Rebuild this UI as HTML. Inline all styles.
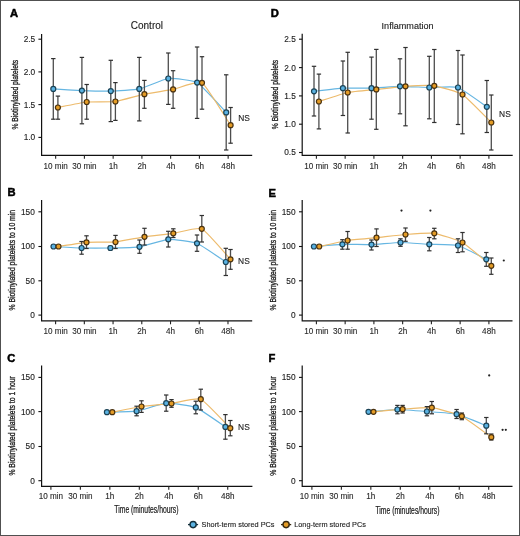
<!DOCTYPE html>
<html><head><meta charset="utf-8"><title>Figure</title>
<style>html,body{margin:0;padding:0;background:#fff;width:520px;height:536px;overflow:hidden}</style>
</head><body>
<svg width="520" height="536" viewBox="0 0 520 536" style="display:block;font-family:'Liberation Sans', sans-serif;will-change:transform">
<rect x="0" y="0" width="520" height="536" fill="#fff"/>
<rect x="0.5" y="0.5" width="519" height="535" fill="none" stroke="#505050" stroke-width="1"/>
<text x="146.9" y="28.8" font-size="10.3" text-anchor="middle" font-weight="normal" fill="#1a1a1a" stroke="#1a1a1a" stroke-width="0.12" textLength="32.2" lengthAdjust="spacingAndGlyphs">Control</text>
<text x="407.6" y="28.8" font-size="9.9" text-anchor="middle" font-weight="normal" fill="#1a1a1a" stroke="#1a1a1a" stroke-width="0.12" textLength="52" lengthAdjust="spacingAndGlyphs">Inflammation</text>
<text x="9.9" y="16.8" font-size="11.2" font-weight="bold" fill="#000" stroke="#000" stroke-width="0.5">A</text>
<path d="M41.6,34 V155.3 H252.2" fill="none" stroke="#111" stroke-width="1.2"/>
<line x1="38.4" y1="39.2" x2="41.6" y2="39.2" stroke="#111" stroke-width="1.1"/>
<text x="35.2" y="42.1" font-size="8.3" text-anchor="end" font-weight="normal" fill="#222" stroke="#222" stroke-width="0.12" >2.5</text>
<line x1="38.4" y1="71.9" x2="41.6" y2="71.9" stroke="#111" stroke-width="1.1"/>
<text x="35.2" y="74.80000000000001" font-size="8.3" text-anchor="end" font-weight="normal" fill="#222" stroke="#222" stroke-width="0.12" >2.0</text>
<line x1="38.4" y1="104.6" x2="41.6" y2="104.6" stroke="#111" stroke-width="1.1"/>
<text x="35.2" y="107.5" font-size="8.3" text-anchor="end" font-weight="normal" fill="#222" stroke="#222" stroke-width="0.12" >1.5</text>
<line x1="38.4" y1="137.4" x2="41.6" y2="137.4" stroke="#111" stroke-width="1.1"/>
<text x="35.2" y="140.3" font-size="8.3" text-anchor="end" font-weight="normal" fill="#222" stroke="#222" stroke-width="0.12" >1.0</text>
<line x1="55.65" y1="155.3" x2="55.65" y2="158.70000000000002" stroke="#222" stroke-width="1.1"/>
<text x="55.65" y="169.0" font-size="8.15" text-anchor="middle" font-weight="normal" fill="#2a2a2a" stroke="#2a2a2a" stroke-width="0.12" >10 min</text>
<line x1="84.4" y1="155.3" x2="84.4" y2="158.70000000000002" stroke="#222" stroke-width="1.1"/>
<text x="84.4" y="169.0" font-size="8.15" text-anchor="middle" font-weight="normal" fill="#2a2a2a" stroke="#2a2a2a" stroke-width="0.12" >30 min</text>
<line x1="113.15" y1="155.3" x2="113.15" y2="158.70000000000002" stroke="#222" stroke-width="1.1"/>
<text x="113.15" y="169.0" font-size="8.15" text-anchor="middle" font-weight="normal" fill="#2a2a2a" stroke="#2a2a2a" stroke-width="0.12" >1h</text>
<line x1="141.9" y1="155.3" x2="141.9" y2="158.70000000000002" stroke="#222" stroke-width="1.1"/>
<text x="141.9" y="169.0" font-size="8.15" text-anchor="middle" font-weight="normal" fill="#2a2a2a" stroke="#2a2a2a" stroke-width="0.12" >2h</text>
<line x1="170.65" y1="155.3" x2="170.65" y2="158.70000000000002" stroke="#222" stroke-width="1.1"/>
<text x="170.65" y="169.0" font-size="8.15" text-anchor="middle" font-weight="normal" fill="#2a2a2a" stroke="#2a2a2a" stroke-width="0.12" >4h</text>
<line x1="199.4" y1="155.3" x2="199.4" y2="158.70000000000002" stroke="#222" stroke-width="1.1"/>
<text x="199.4" y="169.0" font-size="8.15" text-anchor="middle" font-weight="normal" fill="#2a2a2a" stroke="#2a2a2a" stroke-width="0.12" >6h</text>
<line x1="228.15" y1="155.3" x2="228.15" y2="158.70000000000002" stroke="#222" stroke-width="1.1"/>
<text x="228.15" y="169.0" font-size="8.15" text-anchor="middle" font-weight="normal" fill="#2a2a2a" stroke="#2a2a2a" stroke-width="0.12" >48h</text>
<text transform="translate(17.8,94.69999999999999) rotate(-90)" x="0" y="0" font-size="8.3" text-anchor="middle" fill="#1a1a1a" stroke="#1a1a1a" stroke-width="0.3" textLength="69.8" lengthAdjust="spacingAndGlyphs">% Biotinylated platelets</text>
<path d="M53.3,88.9 C55.30,89.02 77.88,90.45 81.9,90.6 C85.93,90.75 106.78,91.22 110.8,91.1 C114.82,90.98 135.28,89.78 139.3,88.9 C143.33,88.02 164.25,78.94 168.3,78.5 C172.35,78.06 193.05,80.23 197.1,82.6 C201.15,84.97 224.16,110.31 226.2,112.4" fill="none" stroke="#66b6e2" stroke-width="1.2"/>
<path d="M57.9,107.5 C59.92,107.11 82.67,102.42 86.7,102 C90.73,101.58 111.36,102.05 115.4,101.5 C119.44,100.95 140.36,95.05 144.4,94.2 C148.44,93.35 169.07,90.20 173.1,89.4 C177.13,88.60 197.97,80.29 202,82.8 C206.03,85.31 228.60,122.23 230.6,125.2" fill="none" stroke="#edbb6c" stroke-width="1.2"/>
<line x1="53.3" y1="58.6" x2="53.3" y2="119.2" stroke="#4d4d4d" stroke-width="1.3"/>
<line x1="51.099999999999994" y1="58.6" x2="55.5" y2="58.6" stroke="#303030" stroke-width="1.2"/>
<line x1="51.099999999999994" y1="119.2" x2="55.5" y2="119.2" stroke="#303030" stroke-width="1.2"/>
<line x1="81.9" y1="57.4" x2="81.9" y2="123.8" stroke="#4d4d4d" stroke-width="1.3"/>
<line x1="79.7" y1="57.4" x2="84.10000000000001" y2="57.4" stroke="#303030" stroke-width="1.2"/>
<line x1="79.7" y1="123.8" x2="84.10000000000001" y2="123.8" stroke="#303030" stroke-width="1.2"/>
<line x1="110.8" y1="60.3" x2="110.8" y2="121.6" stroke="#4d4d4d" stroke-width="1.3"/>
<line x1="108.6" y1="60.3" x2="113.0" y2="60.3" stroke="#303030" stroke-width="1.2"/>
<line x1="108.6" y1="121.6" x2="113.0" y2="121.6" stroke="#303030" stroke-width="1.2"/>
<line x1="139.3" y1="57.4" x2="139.3" y2="120.9" stroke="#4d4d4d" stroke-width="1.3"/>
<line x1="137.10000000000002" y1="57.4" x2="141.5" y2="57.4" stroke="#303030" stroke-width="1.2"/>
<line x1="137.10000000000002" y1="120.9" x2="141.5" y2="120.9" stroke="#303030" stroke-width="1.2"/>
<line x1="168.3" y1="53" x2="168.3" y2="104.4" stroke="#4d4d4d" stroke-width="1.3"/>
<line x1="166.10000000000002" y1="53" x2="170.5" y2="53" stroke="#303030" stroke-width="1.2"/>
<line x1="166.10000000000002" y1="104.4" x2="170.5" y2="104.4" stroke="#303030" stroke-width="1.2"/>
<line x1="197.1" y1="47" x2="197.1" y2="118.4" stroke="#4d4d4d" stroke-width="1.3"/>
<line x1="194.9" y1="47" x2="199.29999999999998" y2="47" stroke="#303030" stroke-width="1.2"/>
<line x1="194.9" y1="118.4" x2="199.29999999999998" y2="118.4" stroke="#303030" stroke-width="1.2"/>
<line x1="226.2" y1="74.8" x2="226.2" y2="150" stroke="#4d4d4d" stroke-width="1.3"/>
<line x1="224.0" y1="74.8" x2="228.39999999999998" y2="74.8" stroke="#303030" stroke-width="1.2"/>
<line x1="224.0" y1="150" x2="228.39999999999998" y2="150" stroke="#303030" stroke-width="1.2"/>
<line x1="57.9" y1="96.1" x2="57.9" y2="119.2" stroke="#4d4d4d" stroke-width="1.3"/>
<line x1="55.699999999999996" y1="96.1" x2="60.1" y2="96.1" stroke="#303030" stroke-width="1.2"/>
<line x1="55.699999999999996" y1="119.2" x2="60.1" y2="119.2" stroke="#303030" stroke-width="1.2"/>
<line x1="86.7" y1="84.5" x2="86.7" y2="119.2" stroke="#4d4d4d" stroke-width="1.3"/>
<line x1="84.5" y1="84.5" x2="88.9" y2="84.5" stroke="#303030" stroke-width="1.2"/>
<line x1="84.5" y1="119.2" x2="88.9" y2="119.2" stroke="#303030" stroke-width="1.2"/>
<line x1="115.4" y1="82.6" x2="115.4" y2="120.4" stroke="#4d4d4d" stroke-width="1.3"/>
<line x1="113.2" y1="82.6" x2="117.60000000000001" y2="82.6" stroke="#303030" stroke-width="1.2"/>
<line x1="113.2" y1="120.4" x2="117.60000000000001" y2="120.4" stroke="#303030" stroke-width="1.2"/>
<line x1="144.4" y1="80.4" x2="144.4" y2="108.3" stroke="#4d4d4d" stroke-width="1.3"/>
<line x1="142.20000000000002" y1="80.4" x2="146.6" y2="80.4" stroke="#303030" stroke-width="1.2"/>
<line x1="142.20000000000002" y1="108.3" x2="146.6" y2="108.3" stroke="#303030" stroke-width="1.2"/>
<line x1="173.1" y1="70.7" x2="173.1" y2="108.3" stroke="#4d4d4d" stroke-width="1.3"/>
<line x1="170.9" y1="70.7" x2="175.29999999999998" y2="70.7" stroke="#303030" stroke-width="1.2"/>
<line x1="170.9" y1="108.3" x2="175.29999999999998" y2="108.3" stroke="#303030" stroke-width="1.2"/>
<line x1="202" y1="56.7" x2="202" y2="109.2" stroke="#4d4d4d" stroke-width="1.3"/>
<line x1="199.8" y1="56.7" x2="204.2" y2="56.7" stroke="#303030" stroke-width="1.2"/>
<line x1="199.8" y1="109.2" x2="204.2" y2="109.2" stroke="#303030" stroke-width="1.2"/>
<line x1="230.6" y1="107.5" x2="230.6" y2="143.2" stroke="#4d4d4d" stroke-width="1.3"/>
<line x1="228.4" y1="107.5" x2="232.79999999999998" y2="107.5" stroke="#303030" stroke-width="1.2"/>
<line x1="228.4" y1="143.2" x2="232.79999999999998" y2="143.2" stroke="#303030" stroke-width="1.2"/>
<circle cx="53.3" cy="88.9" r="2.5" fill="#5AB2E2" stroke="#1b4356" stroke-width="1.2"/>
<circle cx="81.9" cy="90.6" r="2.5" fill="#5AB2E2" stroke="#1b4356" stroke-width="1.2"/>
<circle cx="110.8" cy="91.1" r="2.5" fill="#5AB2E2" stroke="#1b4356" stroke-width="1.2"/>
<circle cx="139.3" cy="88.9" r="2.5" fill="#5AB2E2" stroke="#1b4356" stroke-width="1.2"/>
<circle cx="168.3" cy="78.5" r="2.5" fill="#5AB2E2" stroke="#1b4356" stroke-width="1.2"/>
<circle cx="197.1" cy="82.6" r="2.5" fill="#5AB2E2" stroke="#1b4356" stroke-width="1.2"/>
<circle cx="226.2" cy="112.4" r="2.5" fill="#5AB2E2" stroke="#1b4356" stroke-width="1.2"/>
<circle cx="57.9" cy="107.5" r="2.5" fill="#E49C26" stroke="#4a3210" stroke-width="1.2"/>
<circle cx="86.7" cy="102" r="2.5" fill="#E49C26" stroke="#4a3210" stroke-width="1.2"/>
<circle cx="115.4" cy="101.5" r="2.5" fill="#E49C26" stroke="#4a3210" stroke-width="1.2"/>
<circle cx="144.4" cy="94.2" r="2.5" fill="#E49C26" stroke="#4a3210" stroke-width="1.2"/>
<circle cx="173.1" cy="89.4" r="2.5" fill="#E49C26" stroke="#4a3210" stroke-width="1.2"/>
<circle cx="202" cy="82.8" r="2.5" fill="#E49C26" stroke="#4a3210" stroke-width="1.2"/>
<circle cx="230.6" cy="125.2" r="2.5" fill="#E49C26" stroke="#4a3210" stroke-width="1.2"/>
<text x="238.2" y="121.3" font-size="8.4" text-anchor="start" font-weight="normal" fill="#222" stroke="#222" stroke-width="0.12" >NS</text>
<text x="7.4" y="196.4" font-size="11.2" font-weight="bold" fill="#000" stroke="#000" stroke-width="0.5">B</text>
<path d="M41.6,200 V320.9 H252.2" fill="none" stroke="#111" stroke-width="1.2"/>
<line x1="38.4" y1="211.8" x2="41.6" y2="211.8" stroke="#111" stroke-width="1.1"/>
<text x="34.8" y="214.70000000000002" font-size="8.3" text-anchor="end" font-weight="normal" fill="#222" stroke="#222" stroke-width="0.12" >150</text>
<line x1="38.4" y1="246.5" x2="41.6" y2="246.5" stroke="#111" stroke-width="1.1"/>
<text x="34.8" y="249.4" font-size="8.3" text-anchor="end" font-weight="normal" fill="#222" stroke="#222" stroke-width="0.12" >100</text>
<line x1="38.4" y1="280.8" x2="41.6" y2="280.8" stroke="#111" stroke-width="1.1"/>
<text x="34.8" y="283.7" font-size="8.3" text-anchor="end" font-weight="normal" fill="#222" stroke="#222" stroke-width="0.12" >50</text>
<line x1="38.4" y1="315.1" x2="41.6" y2="315.1" stroke="#111" stroke-width="1.1"/>
<text x="34.8" y="318.0" font-size="8.3" text-anchor="end" font-weight="normal" fill="#222" stroke="#222" stroke-width="0.12" >0</text>
<line x1="55.6" y1="320.9" x2="55.6" y2="324.29999999999995" stroke="#222" stroke-width="1.1"/>
<text x="55.6" y="334.2" font-size="8.15" text-anchor="middle" font-weight="normal" fill="#2a2a2a" stroke="#2a2a2a" stroke-width="0.12" >10 min</text>
<line x1="84.33" y1="320.9" x2="84.33" y2="324.29999999999995" stroke="#222" stroke-width="1.1"/>
<text x="84.33" y="334.2" font-size="8.15" text-anchor="middle" font-weight="normal" fill="#2a2a2a" stroke="#2a2a2a" stroke-width="0.12" >30 min</text>
<line x1="113.06" y1="320.9" x2="113.06" y2="324.29999999999995" stroke="#222" stroke-width="1.1"/>
<text x="113.06" y="334.2" font-size="8.15" text-anchor="middle" font-weight="normal" fill="#2a2a2a" stroke="#2a2a2a" stroke-width="0.12" >1h</text>
<line x1="141.79" y1="320.9" x2="141.79" y2="324.29999999999995" stroke="#222" stroke-width="1.1"/>
<text x="141.79" y="334.2" font-size="8.15" text-anchor="middle" font-weight="normal" fill="#2a2a2a" stroke="#2a2a2a" stroke-width="0.12" >2h</text>
<line x1="170.52" y1="320.9" x2="170.52" y2="324.29999999999995" stroke="#222" stroke-width="1.1"/>
<text x="170.52" y="334.2" font-size="8.15" text-anchor="middle" font-weight="normal" fill="#2a2a2a" stroke="#2a2a2a" stroke-width="0.12" >4h</text>
<line x1="199.25" y1="320.9" x2="199.25" y2="324.29999999999995" stroke="#222" stroke-width="1.1"/>
<text x="199.25" y="334.2" font-size="8.15" text-anchor="middle" font-weight="normal" fill="#2a2a2a" stroke="#2a2a2a" stroke-width="0.12" >6h</text>
<line x1="227.98" y1="320.9" x2="227.98" y2="324.29999999999995" stroke="#222" stroke-width="1.1"/>
<text x="227.98" y="334.2" font-size="8.15" text-anchor="middle" font-weight="normal" fill="#2a2a2a" stroke="#2a2a2a" stroke-width="0.12" >48h</text>
<text transform="translate(15.2,260.25) rotate(-90)" x="0" y="0" font-size="8.3" text-anchor="middle" fill="#1a1a1a" stroke="#1a1a1a" stroke-width="0.3" textLength="100.70000000000002" lengthAdjust="spacingAndGlyphs">% Biotinylated platelets to 10 min</text>
<path d="M53.5,246.5 C55.47,246.60 77.62,247.90 81.6,248 C85.58,248.10 106.35,248.08 110.4,248 C114.45,247.92 135.45,247.41 139.5,246.8 C143.55,246.19 164.28,239.55 168.3,239.3 C172.33,239.06 192.97,241.71 197,243.3 C201.03,244.89 223.78,260.69 225.8,262" fill="none" stroke="#66b6e2" stroke-width="1.2"/>
<path d="M58.5,246.5 C60.46,246.21 82.51,242.62 86.5,242.3 C90.49,241.99 111.44,242.38 115.5,242 C119.56,241.62 140.45,237.41 144.5,236.8 C148.55,236.19 169.29,233.86 173.3,233.3 C177.31,232.74 197.80,226.98 201.8,228.8 C205.80,230.62 228.49,257.17 230.5,259.3" fill="none" stroke="#edbb6c" stroke-width="1.2"/>
<line x1="81.6" y1="241.5" x2="81.6" y2="254.2" stroke="#4d4d4d" stroke-width="1.3"/>
<line x1="79.39999999999999" y1="241.5" x2="83.8" y2="241.5" stroke="#303030" stroke-width="1.2"/>
<line x1="79.39999999999999" y1="254.2" x2="83.8" y2="254.2" stroke="#303030" stroke-width="1.2"/>
<line x1="110.4" y1="246.2" x2="110.4" y2="249.8" stroke="#4d4d4d" stroke-width="1.3"/>
<line x1="108.2" y1="246.2" x2="112.60000000000001" y2="246.2" stroke="#303030" stroke-width="1.2"/>
<line x1="108.2" y1="249.8" x2="112.60000000000001" y2="249.8" stroke="#303030" stroke-width="1.2"/>
<line x1="139.5" y1="240" x2="139.5" y2="253.3" stroke="#4d4d4d" stroke-width="1.3"/>
<line x1="137.3" y1="240" x2="141.7" y2="240" stroke="#303030" stroke-width="1.2"/>
<line x1="137.3" y1="253.3" x2="141.7" y2="253.3" stroke="#303030" stroke-width="1.2"/>
<line x1="168.3" y1="231.3" x2="168.3" y2="247" stroke="#4d4d4d" stroke-width="1.3"/>
<line x1="166.10000000000002" y1="231.3" x2="170.5" y2="231.3" stroke="#303030" stroke-width="1.2"/>
<line x1="166.10000000000002" y1="247" x2="170.5" y2="247" stroke="#303030" stroke-width="1.2"/>
<line x1="197" y1="235" x2="197" y2="251.3" stroke="#4d4d4d" stroke-width="1.3"/>
<line x1="194.8" y1="235" x2="199.2" y2="235" stroke="#303030" stroke-width="1.2"/>
<line x1="194.8" y1="251.3" x2="199.2" y2="251.3" stroke="#303030" stroke-width="1.2"/>
<line x1="225.8" y1="248.3" x2="225.8" y2="275.5" stroke="#4d4d4d" stroke-width="1.3"/>
<line x1="223.60000000000002" y1="248.3" x2="228.0" y2="248.3" stroke="#303030" stroke-width="1.2"/>
<line x1="223.60000000000002" y1="275.5" x2="228.0" y2="275.5" stroke="#303030" stroke-width="1.2"/>
<line x1="86.5" y1="235.8" x2="86.5" y2="248.5" stroke="#4d4d4d" stroke-width="1.3"/>
<line x1="84.3" y1="235.8" x2="88.7" y2="235.8" stroke="#303030" stroke-width="1.2"/>
<line x1="84.3" y1="248.5" x2="88.7" y2="248.5" stroke="#303030" stroke-width="1.2"/>
<line x1="115.5" y1="235.4" x2="115.5" y2="248.5" stroke="#4d4d4d" stroke-width="1.3"/>
<line x1="113.3" y1="235.4" x2="117.7" y2="235.4" stroke="#303030" stroke-width="1.2"/>
<line x1="113.3" y1="248.5" x2="117.7" y2="248.5" stroke="#303030" stroke-width="1.2"/>
<line x1="144.5" y1="228.3" x2="144.5" y2="245" stroke="#4d4d4d" stroke-width="1.3"/>
<line x1="142.3" y1="228.3" x2="146.7" y2="228.3" stroke="#303030" stroke-width="1.2"/>
<line x1="142.3" y1="245" x2="146.7" y2="245" stroke="#303030" stroke-width="1.2"/>
<line x1="173.3" y1="228.8" x2="173.3" y2="237.5" stroke="#4d4d4d" stroke-width="1.3"/>
<line x1="171.10000000000002" y1="228.8" x2="175.5" y2="228.8" stroke="#303030" stroke-width="1.2"/>
<line x1="171.10000000000002" y1="237.5" x2="175.5" y2="237.5" stroke="#303030" stroke-width="1.2"/>
<line x1="201.8" y1="215.5" x2="201.8" y2="242" stroke="#4d4d4d" stroke-width="1.3"/>
<line x1="199.60000000000002" y1="215.5" x2="204.0" y2="215.5" stroke="#303030" stroke-width="1.2"/>
<line x1="199.60000000000002" y1="242" x2="204.0" y2="242" stroke="#303030" stroke-width="1.2"/>
<line x1="230.5" y1="249.5" x2="230.5" y2="269.3" stroke="#4d4d4d" stroke-width="1.3"/>
<line x1="228.3" y1="249.5" x2="232.7" y2="249.5" stroke="#303030" stroke-width="1.2"/>
<line x1="228.3" y1="269.3" x2="232.7" y2="269.3" stroke="#303030" stroke-width="1.2"/>
<circle cx="53.5" cy="246.5" r="2.5" fill="#5AB2E2" stroke="#1b4356" stroke-width="1.2"/>
<circle cx="81.6" cy="248" r="2.5" fill="#5AB2E2" stroke="#1b4356" stroke-width="1.2"/>
<circle cx="110.4" cy="248" r="2.5" fill="#5AB2E2" stroke="#1b4356" stroke-width="1.2"/>
<circle cx="139.5" cy="246.8" r="2.5" fill="#5AB2E2" stroke="#1b4356" stroke-width="1.2"/>
<circle cx="168.3" cy="239.3" r="2.5" fill="#5AB2E2" stroke="#1b4356" stroke-width="1.2"/>
<circle cx="197" cy="243.3" r="2.5" fill="#5AB2E2" stroke="#1b4356" stroke-width="1.2"/>
<circle cx="225.8" cy="262" r="2.5" fill="#5AB2E2" stroke="#1b4356" stroke-width="1.2"/>
<circle cx="58.5" cy="246.5" r="2.5" fill="#E49C26" stroke="#4a3210" stroke-width="1.2"/>
<circle cx="86.5" cy="242.3" r="2.5" fill="#E49C26" stroke="#4a3210" stroke-width="1.2"/>
<circle cx="115.5" cy="242" r="2.5" fill="#E49C26" stroke="#4a3210" stroke-width="1.2"/>
<circle cx="144.5" cy="236.8" r="2.5" fill="#E49C26" stroke="#4a3210" stroke-width="1.2"/>
<circle cx="173.3" cy="233.3" r="2.5" fill="#E49C26" stroke="#4a3210" stroke-width="1.2"/>
<circle cx="201.8" cy="228.8" r="2.5" fill="#E49C26" stroke="#4a3210" stroke-width="1.2"/>
<circle cx="230.5" cy="259.3" r="2.5" fill="#E49C26" stroke="#4a3210" stroke-width="1.2"/>
<text x="238.1" y="263.5" font-size="8.4" text-anchor="start" font-weight="normal" fill="#222" stroke="#222" stroke-width="0.12" >NS</text>
<text x="7.2" y="361.9" font-size="11.2" font-weight="bold" fill="#000" stroke="#000" stroke-width="0.5">C</text>
<path d="M41.6,365.6 V486.3 H252.4" fill="none" stroke="#111" stroke-width="1.2"/>
<line x1="38.4" y1="377.4" x2="41.6" y2="377.4" stroke="#111" stroke-width="1.1"/>
<text x="34.8" y="380.29999999999995" font-size="8.3" text-anchor="end" font-weight="normal" fill="#222" stroke="#222" stroke-width="0.12" >150</text>
<line x1="38.4" y1="411.6" x2="41.6" y2="411.6" stroke="#111" stroke-width="1.1"/>
<text x="34.8" y="414.5" font-size="8.3" text-anchor="end" font-weight="normal" fill="#222" stroke="#222" stroke-width="0.12" >100</text>
<line x1="38.4" y1="446.5" x2="41.6" y2="446.5" stroke="#111" stroke-width="1.1"/>
<text x="34.8" y="449.4" font-size="8.3" text-anchor="end" font-weight="normal" fill="#222" stroke="#222" stroke-width="0.12" >50</text>
<line x1="38.4" y1="480.7" x2="41.6" y2="480.7" stroke="#111" stroke-width="1.1"/>
<text x="34.8" y="483.59999999999997" font-size="8.3" text-anchor="end" font-weight="normal" fill="#222" stroke="#222" stroke-width="0.12" >0</text>
<line x1="50.9" y1="486.3" x2="50.9" y2="489.7" stroke="#222" stroke-width="1.1"/>
<text x="50.9" y="499.4" font-size="8.15" text-anchor="middle" font-weight="normal" fill="#2a2a2a" stroke="#2a2a2a" stroke-width="0.12" >10 min</text>
<line x1="80.37" y1="486.3" x2="80.37" y2="489.7" stroke="#222" stroke-width="1.1"/>
<text x="80.37" y="499.4" font-size="8.15" text-anchor="middle" font-weight="normal" fill="#2a2a2a" stroke="#2a2a2a" stroke-width="0.12" >30 min</text>
<line x1="109.84" y1="486.3" x2="109.84" y2="489.7" stroke="#222" stroke-width="1.1"/>
<text x="109.84" y="499.4" font-size="8.15" text-anchor="middle" font-weight="normal" fill="#2a2a2a" stroke="#2a2a2a" stroke-width="0.12" >1h</text>
<line x1="139.31" y1="486.3" x2="139.31" y2="489.7" stroke="#222" stroke-width="1.1"/>
<text x="139.31" y="499.4" font-size="8.15" text-anchor="middle" font-weight="normal" fill="#2a2a2a" stroke="#2a2a2a" stroke-width="0.12" >2h</text>
<line x1="168.78" y1="486.3" x2="168.78" y2="489.7" stroke="#222" stroke-width="1.1"/>
<text x="168.78" y="499.4" font-size="8.15" text-anchor="middle" font-weight="normal" fill="#2a2a2a" stroke="#2a2a2a" stroke-width="0.12" >4h</text>
<line x1="198.25" y1="486.3" x2="198.25" y2="489.7" stroke="#222" stroke-width="1.1"/>
<text x="198.25" y="499.4" font-size="8.15" text-anchor="middle" font-weight="normal" fill="#2a2a2a" stroke="#2a2a2a" stroke-width="0.12" >6h</text>
<line x1="227.72" y1="486.3" x2="227.72" y2="489.7" stroke="#222" stroke-width="1.1"/>
<text x="227.72" y="499.4" font-size="8.15" text-anchor="middle" font-weight="normal" fill="#2a2a2a" stroke="#2a2a2a" stroke-width="0.12" >48h</text>
<text transform="translate(15.2,425.9) rotate(-90)" x="0" y="0" font-size="8.3" text-anchor="middle" fill="#1a1a1a" stroke="#1a1a1a" stroke-width="0.3" textLength="99.40000000000003" lengthAdjust="spacingAndGlyphs">% Biotinylated platelets to 1 hour</text>
<path d="M106.9,412.2 C108.98,412.13 132.45,411.83 136.6,411.2 C140.75,410.57 162.06,403.47 166.2,403.2 C170.34,402.93 191.66,405.74 195.8,407.4 C199.94,409.06 223.33,425.53 225.4,426.9" fill="none" stroke="#66b6e2" stroke-width="1.2"/>
<path d="M112.3,412.2 C114.34,411.80 137.36,407.11 141.5,406.5 C145.64,405.89 167.35,404.01 171.5,403.5 C175.65,402.99 196.68,397.47 200.8,399.2 C204.92,400.93 228.24,426.17 230.3,428.2" fill="none" stroke="#edbb6c" stroke-width="1.2"/>
<line x1="136.6" y1="406.2" x2="136.6" y2="415.8" stroke="#4d4d4d" stroke-width="1.3"/>
<line x1="134.4" y1="406.2" x2="138.79999999999998" y2="406.2" stroke="#303030" stroke-width="1.2"/>
<line x1="134.4" y1="415.8" x2="138.79999999999998" y2="415.8" stroke="#303030" stroke-width="1.2"/>
<line x1="166.2" y1="395" x2="166.2" y2="411.2" stroke="#4d4d4d" stroke-width="1.3"/>
<line x1="164.0" y1="395" x2="168.39999999999998" y2="395" stroke="#303030" stroke-width="1.2"/>
<line x1="164.0" y1="411.2" x2="168.39999999999998" y2="411.2" stroke="#303030" stroke-width="1.2"/>
<line x1="195.8" y1="401.2" x2="195.8" y2="413.8" stroke="#4d4d4d" stroke-width="1.3"/>
<line x1="193.60000000000002" y1="401.2" x2="198.0" y2="401.2" stroke="#303030" stroke-width="1.2"/>
<line x1="193.60000000000002" y1="413.8" x2="198.0" y2="413.8" stroke="#303030" stroke-width="1.2"/>
<line x1="225.4" y1="414.6" x2="225.4" y2="439.2" stroke="#4d4d4d" stroke-width="1.3"/>
<line x1="223.20000000000002" y1="414.6" x2="227.6" y2="414.6" stroke="#303030" stroke-width="1.2"/>
<line x1="223.20000000000002" y1="439.2" x2="227.6" y2="439.2" stroke="#303030" stroke-width="1.2"/>
<line x1="141.5" y1="400.8" x2="141.5" y2="412.4" stroke="#4d4d4d" stroke-width="1.3"/>
<line x1="139.3" y1="400.8" x2="143.7" y2="400.8" stroke="#303030" stroke-width="1.2"/>
<line x1="139.3" y1="412.4" x2="143.7" y2="412.4" stroke="#303030" stroke-width="1.2"/>
<line x1="171.5" y1="399.6" x2="171.5" y2="407.3" stroke="#4d4d4d" stroke-width="1.3"/>
<line x1="169.3" y1="399.6" x2="173.7" y2="399.6" stroke="#303030" stroke-width="1.2"/>
<line x1="169.3" y1="407.3" x2="173.7" y2="407.3" stroke="#303030" stroke-width="1.2"/>
<line x1="200.8" y1="389.2" x2="200.8" y2="410" stroke="#4d4d4d" stroke-width="1.3"/>
<line x1="198.60000000000002" y1="389.2" x2="203.0" y2="389.2" stroke="#303030" stroke-width="1.2"/>
<line x1="198.60000000000002" y1="410" x2="203.0" y2="410" stroke="#303030" stroke-width="1.2"/>
<line x1="230.3" y1="420.5" x2="230.3" y2="435.8" stroke="#4d4d4d" stroke-width="1.3"/>
<line x1="228.10000000000002" y1="420.5" x2="232.5" y2="420.5" stroke="#303030" stroke-width="1.2"/>
<line x1="228.10000000000002" y1="435.8" x2="232.5" y2="435.8" stroke="#303030" stroke-width="1.2"/>
<circle cx="106.9" cy="412.2" r="2.5" fill="#5AB2E2" stroke="#1b4356" stroke-width="1.2"/>
<circle cx="136.6" cy="411.2" r="2.5" fill="#5AB2E2" stroke="#1b4356" stroke-width="1.2"/>
<circle cx="166.2" cy="403.2" r="2.5" fill="#5AB2E2" stroke="#1b4356" stroke-width="1.2"/>
<circle cx="195.8" cy="407.4" r="2.5" fill="#5AB2E2" stroke="#1b4356" stroke-width="1.2"/>
<circle cx="225.4" cy="426.9" r="2.5" fill="#5AB2E2" stroke="#1b4356" stroke-width="1.2"/>
<circle cx="112.3" cy="412.2" r="2.5" fill="#E49C26" stroke="#4a3210" stroke-width="1.2"/>
<circle cx="141.5" cy="406.5" r="2.5" fill="#E49C26" stroke="#4a3210" stroke-width="1.2"/>
<circle cx="171.5" cy="403.5" r="2.5" fill="#E49C26" stroke="#4a3210" stroke-width="1.2"/>
<circle cx="200.8" cy="399.2" r="2.5" fill="#E49C26" stroke="#4a3210" stroke-width="1.2"/>
<circle cx="230.3" cy="428.2" r="2.5" fill="#E49C26" stroke="#4a3210" stroke-width="1.2"/>
<text x="238.1" y="430.40000000000003" font-size="8.4" text-anchor="start" font-weight="normal" fill="#222" stroke="#222" stroke-width="0.12" >NS</text>
<text x="270.8" y="17.2" font-size="11.2" font-weight="bold" fill="#000" stroke="#000" stroke-width="0.5">D</text>
<path d="M302.2,33.8 V155.3 H512.7" fill="none" stroke="#111" stroke-width="1.2"/>
<line x1="299.0" y1="39.2" x2="302.2" y2="39.2" stroke="#111" stroke-width="1.1"/>
<text x="295.8" y="42.1" font-size="8.3" text-anchor="end" font-weight="normal" fill="#222" stroke="#222" stroke-width="0.12" >2.5</text>
<line x1="299.0" y1="67.6" x2="302.2" y2="67.6" stroke="#111" stroke-width="1.1"/>
<text x="295.8" y="70.5" font-size="8.3" text-anchor="end" font-weight="normal" fill="#222" stroke="#222" stroke-width="0.12" >2.0</text>
<line x1="299.0" y1="95.9" x2="302.2" y2="95.9" stroke="#111" stroke-width="1.1"/>
<text x="295.8" y="98.80000000000001" font-size="8.3" text-anchor="end" font-weight="normal" fill="#222" stroke="#222" stroke-width="0.12" >1.5</text>
<line x1="299.0" y1="124.2" x2="302.2" y2="124.2" stroke="#111" stroke-width="1.1"/>
<text x="295.8" y="127.10000000000001" font-size="8.3" text-anchor="end" font-weight="normal" fill="#222" stroke="#222" stroke-width="0.12" >1.0</text>
<line x1="299.0" y1="152.5" x2="302.2" y2="152.5" stroke="#111" stroke-width="1.1"/>
<text x="295.8" y="155.4" font-size="8.3" text-anchor="end" font-weight="normal" fill="#222" stroke="#222" stroke-width="0.12" >0.5</text>
<line x1="316.4" y1="155.3" x2="316.4" y2="158.70000000000002" stroke="#222" stroke-width="1.1"/>
<text x="316.4" y="169.0" font-size="8.15" text-anchor="middle" font-weight="normal" fill="#2a2a2a" stroke="#2a2a2a" stroke-width="0.12" >10 min</text>
<line x1="345.15" y1="155.3" x2="345.15" y2="158.70000000000002" stroke="#222" stroke-width="1.1"/>
<text x="345.15" y="169.0" font-size="8.15" text-anchor="middle" font-weight="normal" fill="#2a2a2a" stroke="#2a2a2a" stroke-width="0.12" >30 min</text>
<line x1="373.9" y1="155.3" x2="373.9" y2="158.70000000000002" stroke="#222" stroke-width="1.1"/>
<text x="373.9" y="169.0" font-size="8.15" text-anchor="middle" font-weight="normal" fill="#2a2a2a" stroke="#2a2a2a" stroke-width="0.12" >1h</text>
<line x1="402.65" y1="155.3" x2="402.65" y2="158.70000000000002" stroke="#222" stroke-width="1.1"/>
<text x="402.65" y="169.0" font-size="8.15" text-anchor="middle" font-weight="normal" fill="#2a2a2a" stroke="#2a2a2a" stroke-width="0.12" >2h</text>
<line x1="431.4" y1="155.3" x2="431.4" y2="158.70000000000002" stroke="#222" stroke-width="1.1"/>
<text x="431.4" y="169.0" font-size="8.15" text-anchor="middle" font-weight="normal" fill="#2a2a2a" stroke="#2a2a2a" stroke-width="0.12" >4h</text>
<line x1="460.15" y1="155.3" x2="460.15" y2="158.70000000000002" stroke="#222" stroke-width="1.1"/>
<text x="460.15" y="169.0" font-size="8.15" text-anchor="middle" font-weight="normal" fill="#2a2a2a" stroke="#2a2a2a" stroke-width="0.12" >6h</text>
<line x1="488.9" y1="155.3" x2="488.9" y2="158.70000000000002" stroke="#222" stroke-width="1.1"/>
<text x="488.9" y="169.0" font-size="8.15" text-anchor="middle" font-weight="normal" fill="#2a2a2a" stroke="#2a2a2a" stroke-width="0.12" >48h</text>
<text transform="translate(278.2,94.5) rotate(-90)" x="0" y="0" font-size="8.3" text-anchor="middle" fill="#1a1a1a" stroke="#1a1a1a" stroke-width="0.3" textLength="69.39999999999999" lengthAdjust="spacingAndGlyphs">% Biotinylated platelets</text>
<path d="M314,91.3 C316.02,91.08 338.88,88.42 342.9,88.2 C346.92,87.98 367.50,88.33 371.5,88.2 C375.50,88.07 395.95,86.35 400,86.3 C404.05,86.25 425.24,87.42 429.3,87.5 C433.36,87.58 453.98,86.15 458,87.5 C462.02,88.85 484.78,105.45 486.8,106.8" fill="none" stroke="#66b6e2" stroke-width="1.2"/>
<path d="M318.9,101.5 C320.92,100.87 343.68,93.35 347.7,92.5 C351.72,91.65 372.25,89.83 376.3,89.4 C380.35,88.97 401.44,86.55 405.5,86.3 C409.56,86.05 430.31,85.23 434.3,85.8 C438.29,86.37 458.51,91.93 462.5,94.5 C466.49,97.07 489.28,120.54 491.3,122.5" fill="none" stroke="#edbb6c" stroke-width="1.2"/>
<line x1="314" y1="66.3" x2="314" y2="116" stroke="#4d4d4d" stroke-width="1.3"/>
<line x1="311.8" y1="66.3" x2="316.2" y2="66.3" stroke="#303030" stroke-width="1.2"/>
<line x1="311.8" y1="116" x2="316.2" y2="116" stroke="#303030" stroke-width="1.2"/>
<line x1="342.9" y1="61" x2="342.9" y2="115.5" stroke="#4d4d4d" stroke-width="1.3"/>
<line x1="340.7" y1="61" x2="345.09999999999997" y2="61" stroke="#303030" stroke-width="1.2"/>
<line x1="340.7" y1="115.5" x2="345.09999999999997" y2="115.5" stroke="#303030" stroke-width="1.2"/>
<line x1="371.5" y1="57.1" x2="371.5" y2="119.2" stroke="#4d4d4d" stroke-width="1.3"/>
<line x1="369.3" y1="57.1" x2="373.7" y2="57.1" stroke="#303030" stroke-width="1.2"/>
<line x1="369.3" y1="119.2" x2="373.7" y2="119.2" stroke="#303030" stroke-width="1.2"/>
<line x1="400" y1="58.8" x2="400" y2="113.8" stroke="#4d4d4d" stroke-width="1.3"/>
<line x1="397.8" y1="58.8" x2="402.2" y2="58.8" stroke="#303030" stroke-width="1.2"/>
<line x1="397.8" y1="113.8" x2="402.2" y2="113.8" stroke="#303030" stroke-width="1.2"/>
<line x1="429.3" y1="56.3" x2="429.3" y2="118.8" stroke="#4d4d4d" stroke-width="1.3"/>
<line x1="427.1" y1="56.3" x2="431.5" y2="56.3" stroke="#303030" stroke-width="1.2"/>
<line x1="427.1" y1="118.8" x2="431.5" y2="118.8" stroke="#303030" stroke-width="1.2"/>
<line x1="458" y1="50.5" x2="458" y2="124.5" stroke="#4d4d4d" stroke-width="1.3"/>
<line x1="455.8" y1="50.5" x2="460.2" y2="50.5" stroke="#303030" stroke-width="1.2"/>
<line x1="455.8" y1="124.5" x2="460.2" y2="124.5" stroke="#303030" stroke-width="1.2"/>
<line x1="486.8" y1="80.5" x2="486.8" y2="132.5" stroke="#4d4d4d" stroke-width="1.3"/>
<line x1="484.6" y1="80.5" x2="489.0" y2="80.5" stroke="#303030" stroke-width="1.2"/>
<line x1="484.6" y1="132.5" x2="489.0" y2="132.5" stroke="#303030" stroke-width="1.2"/>
<line x1="318.9" y1="74.1" x2="318.9" y2="128.9" stroke="#4d4d4d" stroke-width="1.3"/>
<line x1="316.7" y1="74.1" x2="321.09999999999997" y2="74.1" stroke="#303030" stroke-width="1.2"/>
<line x1="316.7" y1="128.9" x2="321.09999999999997" y2="128.9" stroke="#303030" stroke-width="1.2"/>
<line x1="347.7" y1="52.3" x2="347.7" y2="133" stroke="#4d4d4d" stroke-width="1.3"/>
<line x1="345.5" y1="52.3" x2="349.9" y2="52.3" stroke="#303030" stroke-width="1.2"/>
<line x1="345.5" y1="133" x2="349.9" y2="133" stroke="#303030" stroke-width="1.2"/>
<line x1="376.3" y1="49.4" x2="376.3" y2="129.3" stroke="#4d4d4d" stroke-width="1.3"/>
<line x1="374.1" y1="49.4" x2="378.5" y2="49.4" stroke="#303030" stroke-width="1.2"/>
<line x1="374.1" y1="129.3" x2="378.5" y2="129.3" stroke="#303030" stroke-width="1.2"/>
<line x1="405.5" y1="47.5" x2="405.5" y2="125.8" stroke="#4d4d4d" stroke-width="1.3"/>
<line x1="403.3" y1="47.5" x2="407.7" y2="47.5" stroke="#303030" stroke-width="1.2"/>
<line x1="403.3" y1="125.8" x2="407.7" y2="125.8" stroke="#303030" stroke-width="1.2"/>
<line x1="434.3" y1="49.5" x2="434.3" y2="122.5" stroke="#4d4d4d" stroke-width="1.3"/>
<line x1="432.1" y1="49.5" x2="436.5" y2="49.5" stroke="#303030" stroke-width="1.2"/>
<line x1="432.1" y1="122.5" x2="436.5" y2="122.5" stroke="#303030" stroke-width="1.2"/>
<line x1="462.5" y1="55" x2="462.5" y2="133.8" stroke="#4d4d4d" stroke-width="1.3"/>
<line x1="460.3" y1="55" x2="464.7" y2="55" stroke="#303030" stroke-width="1.2"/>
<line x1="460.3" y1="133.8" x2="464.7" y2="133.8" stroke="#303030" stroke-width="1.2"/>
<line x1="491.3" y1="95" x2="491.3" y2="150" stroke="#4d4d4d" stroke-width="1.3"/>
<line x1="489.1" y1="95" x2="493.5" y2="95" stroke="#303030" stroke-width="1.2"/>
<line x1="489.1" y1="150" x2="493.5" y2="150" stroke="#303030" stroke-width="1.2"/>
<circle cx="314" cy="91.3" r="2.5" fill="#5AB2E2" stroke="#1b4356" stroke-width="1.2"/>
<circle cx="342.9" cy="88.2" r="2.5" fill="#5AB2E2" stroke="#1b4356" stroke-width="1.2"/>
<circle cx="371.5" cy="88.2" r="2.5" fill="#5AB2E2" stroke="#1b4356" stroke-width="1.2"/>
<circle cx="400" cy="86.3" r="2.5" fill="#5AB2E2" stroke="#1b4356" stroke-width="1.2"/>
<circle cx="429.3" cy="87.5" r="2.5" fill="#5AB2E2" stroke="#1b4356" stroke-width="1.2"/>
<circle cx="458" cy="87.5" r="2.5" fill="#5AB2E2" stroke="#1b4356" stroke-width="1.2"/>
<circle cx="486.8" cy="106.8" r="2.5" fill="#5AB2E2" stroke="#1b4356" stroke-width="1.2"/>
<circle cx="318.9" cy="101.5" r="2.5" fill="#E49C26" stroke="#4a3210" stroke-width="1.2"/>
<circle cx="347.7" cy="92.5" r="2.5" fill="#E49C26" stroke="#4a3210" stroke-width="1.2"/>
<circle cx="376.3" cy="89.4" r="2.5" fill="#E49C26" stroke="#4a3210" stroke-width="1.2"/>
<circle cx="405.5" cy="86.3" r="2.5" fill="#E49C26" stroke="#4a3210" stroke-width="1.2"/>
<circle cx="434.3" cy="85.8" r="2.5" fill="#E49C26" stroke="#4a3210" stroke-width="1.2"/>
<circle cx="462.5" cy="94.5" r="2.5" fill="#E49C26" stroke="#4a3210" stroke-width="1.2"/>
<circle cx="491.3" cy="122.5" r="2.5" fill="#E49C26" stroke="#4a3210" stroke-width="1.2"/>
<text x="499.09999999999997" y="117.0" font-size="8.4" text-anchor="start" font-weight="normal" fill="#222" stroke="#222" stroke-width="0.12" >NS</text>
<text x="268.4" y="196.5" font-size="11.2" font-weight="bold" fill="#000" stroke="#000" stroke-width="0.5">E</text>
<path d="M302.2,200 V320.9 H512.5" fill="none" stroke="#111" stroke-width="1.2"/>
<line x1="299.0" y1="211.8" x2="302.2" y2="211.8" stroke="#111" stroke-width="1.1"/>
<text x="295.5" y="214.70000000000002" font-size="8.3" text-anchor="end" font-weight="normal" fill="#222" stroke="#222" stroke-width="0.12" >150</text>
<line x1="299.0" y1="246.5" x2="302.2" y2="246.5" stroke="#111" stroke-width="1.1"/>
<text x="295.5" y="249.4" font-size="8.3" text-anchor="end" font-weight="normal" fill="#222" stroke="#222" stroke-width="0.12" >100</text>
<line x1="299.0" y1="280.8" x2="302.2" y2="280.8" stroke="#111" stroke-width="1.1"/>
<text x="295.5" y="283.7" font-size="8.3" text-anchor="end" font-weight="normal" fill="#222" stroke="#222" stroke-width="0.12" >50</text>
<line x1="299.0" y1="315.1" x2="302.2" y2="315.1" stroke="#111" stroke-width="1.1"/>
<text x="295.5" y="318.0" font-size="8.3" text-anchor="end" font-weight="normal" fill="#222" stroke="#222" stroke-width="0.12" >0</text>
<line x1="316.4" y1="320.9" x2="316.4" y2="324.29999999999995" stroke="#222" stroke-width="1.1"/>
<text x="316.4" y="334.2" font-size="8.15" text-anchor="middle" font-weight="normal" fill="#2a2a2a" stroke="#2a2a2a" stroke-width="0.12" >10 min</text>
<line x1="345.15" y1="320.9" x2="345.15" y2="324.29999999999995" stroke="#222" stroke-width="1.1"/>
<text x="345.15" y="334.2" font-size="8.15" text-anchor="middle" font-weight="normal" fill="#2a2a2a" stroke="#2a2a2a" stroke-width="0.12" >30 min</text>
<line x1="373.9" y1="320.9" x2="373.9" y2="324.29999999999995" stroke="#222" stroke-width="1.1"/>
<text x="373.9" y="334.2" font-size="8.15" text-anchor="middle" font-weight="normal" fill="#2a2a2a" stroke="#2a2a2a" stroke-width="0.12" >1h</text>
<line x1="402.65" y1="320.9" x2="402.65" y2="324.29999999999995" stroke="#222" stroke-width="1.1"/>
<text x="402.65" y="334.2" font-size="8.15" text-anchor="middle" font-weight="normal" fill="#2a2a2a" stroke="#2a2a2a" stroke-width="0.12" >2h</text>
<line x1="431.4" y1="320.9" x2="431.4" y2="324.29999999999995" stroke="#222" stroke-width="1.1"/>
<text x="431.4" y="334.2" font-size="8.15" text-anchor="middle" font-weight="normal" fill="#2a2a2a" stroke="#2a2a2a" stroke-width="0.12" >4h</text>
<line x1="460.15" y1="320.9" x2="460.15" y2="324.29999999999995" stroke="#222" stroke-width="1.1"/>
<text x="460.15" y="334.2" font-size="8.15" text-anchor="middle" font-weight="normal" fill="#2a2a2a" stroke="#2a2a2a" stroke-width="0.12" >6h</text>
<line x1="488.9" y1="320.9" x2="488.9" y2="324.29999999999995" stroke="#222" stroke-width="1.1"/>
<text x="488.9" y="334.2" font-size="8.15" text-anchor="middle" font-weight="normal" fill="#2a2a2a" stroke="#2a2a2a" stroke-width="0.12" >48h</text>
<text transform="translate(275.8,260.25) rotate(-90)" x="0" y="0" font-size="8.3" text-anchor="middle" fill="#1a1a1a" stroke="#1a1a1a" stroke-width="0.3" textLength="100.70000000000002" lengthAdjust="spacingAndGlyphs">% Biotinylated platelets to 10 min</text>
<path d="M313.9,246.5 C315.89,246.35 338.37,244.43 342.4,244.3 C346.43,244.17 367.43,244.73 371.5,244.6 C375.57,244.47 396.45,242.52 400.5,242.5 C404.55,242.48 425.28,244.09 429.3,244.3 C433.32,244.51 454.01,244.45 458,245.5 C461.99,246.55 484.32,258.33 486.3,259.3" fill="none" stroke="#66b6e2" stroke-width="1.2"/>
<path d="M319.2,246.5 C321.19,246.08 343.59,241.12 347.6,240.5 C351.61,239.88 372.45,238.12 376.5,237.7 C380.55,237.28 401.45,234.81 405.5,234.5 C409.55,234.19 430.31,232.74 434.3,233.3 C438.29,233.86 458.51,240.22 462.5,242.5 C466.49,244.78 489.28,264.17 491.3,265.8" fill="none" stroke="#edbb6c" stroke-width="1.2"/>
<line x1="342.4" y1="239.7" x2="342.4" y2="249.2" stroke="#4d4d4d" stroke-width="1.3"/>
<line x1="340.2" y1="239.7" x2="344.59999999999997" y2="239.7" stroke="#303030" stroke-width="1.2"/>
<line x1="340.2" y1="249.2" x2="344.59999999999997" y2="249.2" stroke="#303030" stroke-width="1.2"/>
<line x1="371.5" y1="240" x2="371.5" y2="250" stroke="#4d4d4d" stroke-width="1.3"/>
<line x1="369.3" y1="240" x2="373.7" y2="240" stroke="#303030" stroke-width="1.2"/>
<line x1="369.3" y1="250" x2="373.7" y2="250" stroke="#303030" stroke-width="1.2"/>
<line x1="400.5" y1="238.8" x2="400.5" y2="246.3" stroke="#4d4d4d" stroke-width="1.3"/>
<line x1="398.3" y1="238.8" x2="402.7" y2="238.8" stroke="#303030" stroke-width="1.2"/>
<line x1="398.3" y1="246.3" x2="402.7" y2="246.3" stroke="#303030" stroke-width="1.2"/>
<line x1="429.3" y1="237.5" x2="429.3" y2="250.8" stroke="#4d4d4d" stroke-width="1.3"/>
<line x1="427.1" y1="237.5" x2="431.5" y2="237.5" stroke="#303030" stroke-width="1.2"/>
<line x1="427.1" y1="250.8" x2="431.5" y2="250.8" stroke="#303030" stroke-width="1.2"/>
<line x1="458" y1="238.8" x2="458" y2="252.5" stroke="#4d4d4d" stroke-width="1.3"/>
<line x1="455.8" y1="238.8" x2="460.2" y2="238.8" stroke="#303030" stroke-width="1.2"/>
<line x1="455.8" y1="252.5" x2="460.2" y2="252.5" stroke="#303030" stroke-width="1.2"/>
<line x1="486.3" y1="252.5" x2="486.3" y2="266.3" stroke="#4d4d4d" stroke-width="1.3"/>
<line x1="484.1" y1="252.5" x2="488.5" y2="252.5" stroke="#303030" stroke-width="1.2"/>
<line x1="484.1" y1="266.3" x2="488.5" y2="266.3" stroke="#303030" stroke-width="1.2"/>
<line x1="347.6" y1="231.5" x2="347.6" y2="249.2" stroke="#4d4d4d" stroke-width="1.3"/>
<line x1="345.40000000000003" y1="231.5" x2="349.8" y2="231.5" stroke="#303030" stroke-width="1.2"/>
<line x1="345.40000000000003" y1="249.2" x2="349.8" y2="249.2" stroke="#303030" stroke-width="1.2"/>
<line x1="376.5" y1="228.9" x2="376.5" y2="246.5" stroke="#4d4d4d" stroke-width="1.3"/>
<line x1="374.3" y1="228.9" x2="378.7" y2="228.9" stroke="#303030" stroke-width="1.2"/>
<line x1="374.3" y1="246.5" x2="378.7" y2="246.5" stroke="#303030" stroke-width="1.2"/>
<line x1="405.5" y1="228" x2="405.5" y2="241.3" stroke="#4d4d4d" stroke-width="1.3"/>
<line x1="403.3" y1="228" x2="407.7" y2="228" stroke="#303030" stroke-width="1.2"/>
<line x1="403.3" y1="241.3" x2="407.7" y2="241.3" stroke="#303030" stroke-width="1.2"/>
<line x1="434.3" y1="228.3" x2="434.3" y2="238.8" stroke="#4d4d4d" stroke-width="1.3"/>
<line x1="432.1" y1="228.3" x2="436.5" y2="228.3" stroke="#303030" stroke-width="1.2"/>
<line x1="432.1" y1="238.8" x2="436.5" y2="238.8" stroke="#303030" stroke-width="1.2"/>
<line x1="462.5" y1="232.5" x2="462.5" y2="251.8" stroke="#4d4d4d" stroke-width="1.3"/>
<line x1="460.3" y1="232.5" x2="464.7" y2="232.5" stroke="#303030" stroke-width="1.2"/>
<line x1="460.3" y1="251.8" x2="464.7" y2="251.8" stroke="#303030" stroke-width="1.2"/>
<line x1="491.3" y1="258" x2="491.3" y2="274.3" stroke="#4d4d4d" stroke-width="1.3"/>
<line x1="489.1" y1="258" x2="493.5" y2="258" stroke="#303030" stroke-width="1.2"/>
<line x1="489.1" y1="274.3" x2="493.5" y2="274.3" stroke="#303030" stroke-width="1.2"/>
<circle cx="313.9" cy="246.5" r="2.5" fill="#5AB2E2" stroke="#1b4356" stroke-width="1.2"/>
<circle cx="342.4" cy="244.3" r="2.5" fill="#5AB2E2" stroke="#1b4356" stroke-width="1.2"/>
<circle cx="371.5" cy="244.6" r="2.5" fill="#5AB2E2" stroke="#1b4356" stroke-width="1.2"/>
<circle cx="400.5" cy="242.5" r="2.5" fill="#5AB2E2" stroke="#1b4356" stroke-width="1.2"/>
<circle cx="429.3" cy="244.3" r="2.5" fill="#5AB2E2" stroke="#1b4356" stroke-width="1.2"/>
<circle cx="458" cy="245.5" r="2.5" fill="#5AB2E2" stroke="#1b4356" stroke-width="1.2"/>
<circle cx="486.3" cy="259.3" r="2.5" fill="#5AB2E2" stroke="#1b4356" stroke-width="1.2"/>
<circle cx="319.2" cy="246.5" r="2.5" fill="#E49C26" stroke="#4a3210" stroke-width="1.2"/>
<circle cx="347.6" cy="240.5" r="2.5" fill="#E49C26" stroke="#4a3210" stroke-width="1.2"/>
<circle cx="376.5" cy="237.7" r="2.5" fill="#E49C26" stroke="#4a3210" stroke-width="1.2"/>
<circle cx="405.5" cy="234.5" r="2.5" fill="#E49C26" stroke="#4a3210" stroke-width="1.2"/>
<circle cx="434.3" cy="233.3" r="2.5" fill="#E49C26" stroke="#4a3210" stroke-width="1.2"/>
<circle cx="462.5" cy="242.5" r="2.5" fill="#E49C26" stroke="#4a3210" stroke-width="1.2"/>
<circle cx="491.3" cy="265.8" r="2.5" fill="#E49C26" stroke="#4a3210" stroke-width="1.2"/>
<circle cx="401.5" cy="210.6" r="1.1" fill="#222"/>
<circle cx="430.4" cy="210.6" r="1.1" fill="#222"/>
<circle cx="503.8" cy="260.5" r="1.1" fill="#222"/>
<text x="268.5" y="361.8" font-size="11.2" font-weight="bold" fill="#000" stroke="#000" stroke-width="0.5">F</text>
<path d="M302.2,365.6 V486.3 H512.5" fill="none" stroke="#111" stroke-width="1.2"/>
<line x1="299.0" y1="377.4" x2="302.2" y2="377.4" stroke="#111" stroke-width="1.1"/>
<text x="295.5" y="380.29999999999995" font-size="8.3" text-anchor="end" font-weight="normal" fill="#222" stroke="#222" stroke-width="0.12" >150</text>
<line x1="299.0" y1="411.6" x2="302.2" y2="411.6" stroke="#111" stroke-width="1.1"/>
<text x="295.5" y="414.5" font-size="8.3" text-anchor="end" font-weight="normal" fill="#222" stroke="#222" stroke-width="0.12" >100</text>
<line x1="299.0" y1="446.5" x2="302.2" y2="446.5" stroke="#111" stroke-width="1.1"/>
<text x="295.5" y="449.4" font-size="8.3" text-anchor="end" font-weight="normal" fill="#222" stroke="#222" stroke-width="0.12" >50</text>
<line x1="299.0" y1="480.7" x2="302.2" y2="480.7" stroke="#111" stroke-width="1.1"/>
<text x="295.5" y="483.59999999999997" font-size="8.3" text-anchor="end" font-weight="normal" fill="#222" stroke="#222" stroke-width="0.12" >0</text>
<line x1="311.9" y1="486.3" x2="311.9" y2="489.7" stroke="#222" stroke-width="1.1"/>
<text x="311.9" y="499.4" font-size="8.15" text-anchor="middle" font-weight="normal" fill="#2a2a2a" stroke="#2a2a2a" stroke-width="0.12" >10 min</text>
<line x1="341.37" y1="486.3" x2="341.37" y2="489.7" stroke="#222" stroke-width="1.1"/>
<text x="341.37" y="499.4" font-size="8.15" text-anchor="middle" font-weight="normal" fill="#2a2a2a" stroke="#2a2a2a" stroke-width="0.12" >30 min</text>
<line x1="370.84" y1="486.3" x2="370.84" y2="489.7" stroke="#222" stroke-width="1.1"/>
<text x="370.84" y="499.4" font-size="8.15" text-anchor="middle" font-weight="normal" fill="#2a2a2a" stroke="#2a2a2a" stroke-width="0.12" >1h</text>
<line x1="400.30999999999995" y1="486.3" x2="400.30999999999995" y2="489.7" stroke="#222" stroke-width="1.1"/>
<text x="400.31" y="499.4" font-size="8.15" text-anchor="middle" font-weight="normal" fill="#2a2a2a" stroke="#2a2a2a" stroke-width="0.12" >2h</text>
<line x1="429.78" y1="486.3" x2="429.78" y2="489.7" stroke="#222" stroke-width="1.1"/>
<text x="429.78" y="499.4" font-size="8.15" text-anchor="middle" font-weight="normal" fill="#2a2a2a" stroke="#2a2a2a" stroke-width="0.12" >4h</text>
<line x1="459.25" y1="486.3" x2="459.25" y2="489.7" stroke="#222" stroke-width="1.1"/>
<text x="459.25" y="499.4" font-size="8.15" text-anchor="middle" font-weight="normal" fill="#2a2a2a" stroke="#2a2a2a" stroke-width="0.12" >6h</text>
<line x1="488.71999999999997" y1="486.3" x2="488.71999999999997" y2="489.7" stroke="#222" stroke-width="1.1"/>
<text x="488.72" y="499.4" font-size="8.15" text-anchor="middle" font-weight="normal" fill="#2a2a2a" stroke="#2a2a2a" stroke-width="0.12" >48h</text>
<text transform="translate(275.8,425.95) rotate(-90)" x="0" y="0" font-size="8.3" text-anchor="middle" fill="#1a1a1a" stroke="#1a1a1a" stroke-width="0.3" textLength="99.5" lengthAdjust="spacingAndGlyphs">% Biotinylated platelets to 1 hour</text>
<path d="M368.5,411.8 C370.52,411.64 393.31,409.52 397.4,409.5 C401.49,409.48 422.76,411.17 426.9,411.5 C431.04,411.83 452.44,413.21 456.6,414.2 C460.76,415.19 484.22,424.89 486.3,425.7" fill="none" stroke="#66b6e2" stroke-width="1.2"/>
<path d="M373.5,411.8 C375.54,411.62 398.52,409.49 402.6,409.2 C406.68,408.91 427.66,407.21 431.8,407.7 C435.94,408.19 457.63,414.13 461.8,416.2 C465.97,418.26 489.24,435.73 491.3,437.2" fill="none" stroke="#edbb6c" stroke-width="1.2"/>
<line x1="397.4" y1="405.4" x2="397.4" y2="413.8" stroke="#4d4d4d" stroke-width="1.3"/>
<line x1="395.2" y1="405.4" x2="399.59999999999997" y2="405.4" stroke="#303030" stroke-width="1.2"/>
<line x1="395.2" y1="413.8" x2="399.59999999999997" y2="413.8" stroke="#303030" stroke-width="1.2"/>
<line x1="426.9" y1="406.6" x2="426.9" y2="415.8" stroke="#4d4d4d" stroke-width="1.3"/>
<line x1="424.7" y1="406.6" x2="429.09999999999997" y2="406.6" stroke="#303030" stroke-width="1.2"/>
<line x1="424.7" y1="415.8" x2="429.09999999999997" y2="415.8" stroke="#303030" stroke-width="1.2"/>
<line x1="456.6" y1="409.5" x2="456.6" y2="418.5" stroke="#4d4d4d" stroke-width="1.3"/>
<line x1="454.40000000000003" y1="409.5" x2="458.8" y2="409.5" stroke="#303030" stroke-width="1.2"/>
<line x1="454.40000000000003" y1="418.5" x2="458.8" y2="418.5" stroke="#303030" stroke-width="1.2"/>
<line x1="486.3" y1="417.5" x2="486.3" y2="433.8" stroke="#4d4d4d" stroke-width="1.3"/>
<line x1="484.1" y1="417.5" x2="488.5" y2="417.5" stroke="#303030" stroke-width="1.2"/>
<line x1="484.1" y1="433.8" x2="488.5" y2="433.8" stroke="#303030" stroke-width="1.2"/>
<line x1="402.6" y1="405.4" x2="402.6" y2="413" stroke="#4d4d4d" stroke-width="1.3"/>
<line x1="400.40000000000003" y1="405.4" x2="404.8" y2="405.4" stroke="#303030" stroke-width="1.2"/>
<line x1="400.40000000000003" y1="413" x2="404.8" y2="413" stroke="#303030" stroke-width="1.2"/>
<line x1="431.8" y1="401.5" x2="431.8" y2="413.8" stroke="#4d4d4d" stroke-width="1.3"/>
<line x1="429.6" y1="401.5" x2="434.0" y2="401.5" stroke="#303030" stroke-width="1.2"/>
<line x1="429.6" y1="413.8" x2="434.0" y2="413.8" stroke="#303030" stroke-width="1.2"/>
<line x1="461.8" y1="413" x2="461.8" y2="419.7" stroke="#4d4d4d" stroke-width="1.3"/>
<line x1="459.6" y1="413" x2="464.0" y2="413" stroke="#303030" stroke-width="1.2"/>
<line x1="459.6" y1="419.7" x2="464.0" y2="419.7" stroke="#303030" stroke-width="1.2"/>
<line x1="491.3" y1="434" x2="491.3" y2="440" stroke="#4d4d4d" stroke-width="1.3"/>
<line x1="489.1" y1="434" x2="493.5" y2="434" stroke="#303030" stroke-width="1.2"/>
<line x1="489.1" y1="440" x2="493.5" y2="440" stroke="#303030" stroke-width="1.2"/>
<circle cx="368.5" cy="411.8" r="2.5" fill="#5AB2E2" stroke="#1b4356" stroke-width="1.2"/>
<circle cx="397.4" cy="409.5" r="2.5" fill="#5AB2E2" stroke="#1b4356" stroke-width="1.2"/>
<circle cx="426.9" cy="411.5" r="2.5" fill="#5AB2E2" stroke="#1b4356" stroke-width="1.2"/>
<circle cx="456.6" cy="414.2" r="2.5" fill="#5AB2E2" stroke="#1b4356" stroke-width="1.2"/>
<circle cx="486.3" cy="425.7" r="2.5" fill="#5AB2E2" stroke="#1b4356" stroke-width="1.2"/>
<circle cx="373.5" cy="411.8" r="2.5" fill="#E49C26" stroke="#4a3210" stroke-width="1.2"/>
<circle cx="402.6" cy="409.2" r="2.5" fill="#E49C26" stroke="#4a3210" stroke-width="1.2"/>
<circle cx="431.8" cy="407.7" r="2.5" fill="#E49C26" stroke="#4a3210" stroke-width="1.2"/>
<circle cx="461.8" cy="416.2" r="2.5" fill="#E49C26" stroke="#4a3210" stroke-width="1.2"/>
<circle cx="491.3" cy="437.2" r="2.5" fill="#E49C26" stroke="#4a3210" stroke-width="1.2"/>
<circle cx="489.2" cy="375.4" r="1.1" fill="#222"/>
<circle cx="502.6" cy="429.8" r="1.1" fill="#222"/>
<circle cx="505.8" cy="429.8" r="1.1" fill="#222"/>
<text x="114.3" y="513.1" font-size="10.2" fill="#1a1a1a" stroke="#1a1a1a" stroke-width="0.22" textLength="64.2" lengthAdjust="spacingAndGlyphs">Time (minutes/hours)</text>
<text x="375.4" y="513.5" font-size="10.2" fill="#1a1a1a" stroke="#1a1a1a" stroke-width="0.22" textLength="64.1" lengthAdjust="spacingAndGlyphs">Time (minutes/hours)</text>
<line x1="188" y1="524.6" x2="198.1" y2="524.6" stroke="#14303c" stroke-width="1.3"/>
<circle cx="193.1" cy="524.6" r="3.1" fill="#5AB2E2" stroke="#14303c" stroke-width="1.4"/>
<text x="201.6" y="527.1" font-size="7.33" text-anchor="start" font-weight="normal" fill="#222" stroke="#222" stroke-width="0.12" >Short-term stored PCs</text>
<line x1="281" y1="524.6" x2="291.2" y2="524.6" stroke="#3a2a10" stroke-width="1.3"/>
<circle cx="286.1" cy="524.6" r="3.1" fill="#E49C26" stroke="#3a2a10" stroke-width="1.4"/>
<text x="294.2" y="527.1" font-size="7.33" text-anchor="start" font-weight="normal" fill="#222" stroke="#222" stroke-width="0.12" >Long-term stored PCs</text>
</svg>
</body></html>
